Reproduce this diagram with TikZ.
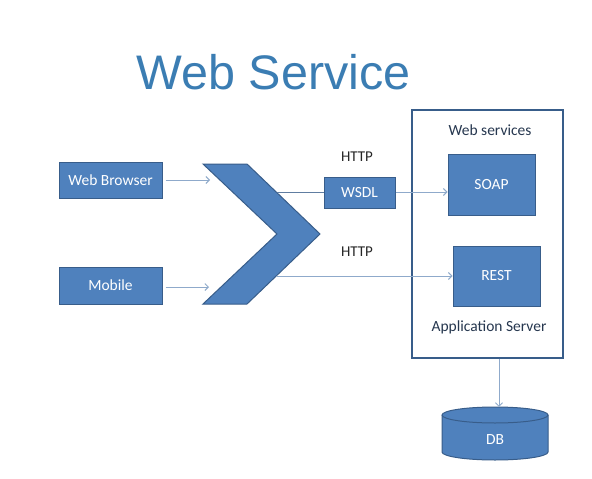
\documentclass[tikz,border=0pt]{standalone}
\usepackage{fontspec}
\setmainfont{Carlito}
\newfontfamily\titlefont{Liberation Sans}
\usetikzlibrary{arrows.meta}
\definecolor{boxfill}{HTML}{4F81BD}
\definecolor{boxline}{HTML}{385D8A}
\definecolor{arrowc}{HTML}{8FAACB}
\definecolor{titlec}{HTML}{3B7DB3}
\definecolor{txtc}{HTML}{26374F}
\tikzset{
  bluebox/.style={draw=boxline, line width=1pt, fill=boxfill, text=white,
    font=\fontsize{15.5}{17}\selectfont, inner sep=0pt},
  flow/.style={draw=arrowc, line width=0.9pt, -{Straight Barb[length=3.5pt,width=7pt]}},
  plainflow/.style={draw=boxline!80, line width=0.8pt},
  lbl/.style={text=txtc, font=\fontsize{15.5}{17}\selectfont, inner sep=0pt}
}
\begin{document}
\begin{tikzpicture}[x=1pt,y=-1pt]
\useasboundingbox (0,0) rectangle (592,479);
\fill[white] (0,0) rectangle (592,479);
\node[text=titlec, font=\titlefont\fontsize{48.5}{52}\selectfont, inner sep=0pt] (title) at (273.5,72) {Web Service};

\node[draw=boxline, line width=1.2pt, minimum width=151pt, minimum height=248pt] (app) at (487.5,234) {};
\node[lbl] (wslbl) at (490,130) {Web services};
\node[lbl] (aslbl) at (489,327) {Application Server};

\node[bluebox, minimum width=103pt, minimum height=36pt] (wb) at (110.5,180) {Web Browser};
\node[bluebox, minimum width=103pt, minimum height=37pt] (mob) at (110.5,285.5) {Mobile};
\node[bluebox, minimum width=71pt, minimum height=31pt] (wsdl) at (359.5,192.5) {WSDL};
\node[bluebox, minimum width=87pt, minimum height=61pt] (soap) at (491.5,184.5) {SOAP};
\node[bluebox, minimum width=87pt, minimum height=60pt] (rest) at (496.5,276) {REST};

% chevron
\draw[draw=boxline, line width=1pt, fill=boxfill] (203,164) -- (247,164) -- (320,234) -- (247,304) -- (203,304) -- (277,234) -- cycle;
\coordinate (cin1) at (210,180);
\coordinate (cin2) at (209,287);
\coordinate (cout1) at (277,192);
\coordinate (cout2) at (277,276);

\node[text=black!85, font=\fontsize{15}{17}\selectfont, inner sep=0pt] (http1) at (357,157) {HTTP};
\node[text=black!85, font=\fontsize{15}{17}\selectfont, inner sep=0pt] (http2) at (357,252) {HTTP};

\draw[flow] (wb.east) ++(3,0) coordinate (wbo) -- (wbo -| cin1);
\draw[flow] (mob.east) ++(3,1.5) coordinate (mbo) -- (mbo -| cin2);
\draw[plainflow] (cout1) -- (cout1 -| wsdl.west);
\draw[flow] (wsdl.east |- cout1) -- (soap.west |- cout1);
\draw[flow] (cout2) -- (rest.west |- cout2);

% DB cylinder
\node[inner sep=0pt, minimum width=106pt, minimum height=53pt] (db) at (495,433.5) {};
\draw[draw=boxline, line width=1pt, fill=boxfill] (442,415) -- (442,452) arc[start angle=180, end angle=360, x radius=53, y radius=-8] -- (548,415) arc[start angle=0, end angle=180, x radius=53, y radius=-8] -- cycle;
\draw[draw=boxline, line width=1pt] (442,415) arc[start angle=180, end angle=360, x radius=53, y radius=-8];
\node[text=white, font=\fontsize{15.5}{17}\selectfont, inner sep=0pt] (dblbl) at (495,440) {DB};
\draw[flow] (app.south -| 499,0) -- (db.north -| 499,0);
\end{tikzpicture}
\end{document}
